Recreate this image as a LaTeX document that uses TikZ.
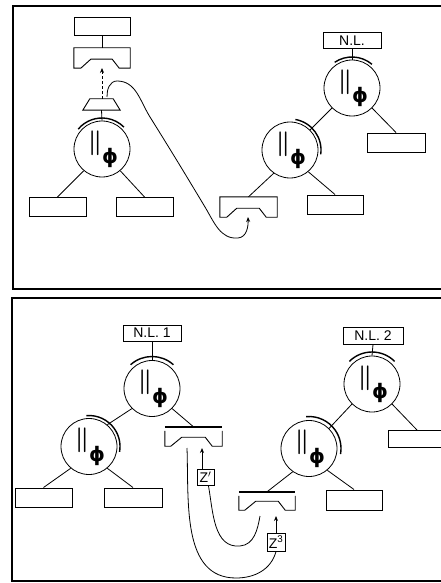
\documentclass[tikz,border=0pt]{standalone}
\usepackage{fontspec}
\setsansfont{Liberation Sans}
\newfontfamily\phifont{DejaVu Sans}
\usetikzlibrary{arrows.meta}

\tikzset{
  frame/.style={line width=1.1pt},
  link/.style={line width=0.8pt},
  plainbox/.style={draw, line width=1pt, rectangle, minimum width=57pt, minimum height=19pt, inner sep=0pt},
  dockbox/.style={rectangle, minimum width=57pt, minimum height=19pt, inner sep=0pt},
  unit/.style={draw, circle, line width=0.8pt, minimum size=56pt, inner sep=0pt},
  halo/.style={line width=1.4pt},
  nlbox/.style={draw, line width=1pt, font=\sffamily\fontsize{14}{14}\selectfont, inner sep=0pt, minimum height=16pt, minimum width=58pt},
  ztag/.style={draw, line width=0.9pt, font=\sffamily\fontsize{14}{14}\selectfont, inner sep=1pt, minimum width=17pt, minimum height=16pt},
  glyph/.style={inner sep=0pt, font=\fontsize{23}{23}\selectfont\boldmath},
  phiglyph/.style={inner sep=0pt, font=\phifont\bfseries\fontsize{20}{20}\selectfont},
  wire/.style={line width=0.8pt},
  tip/.style={-{Stealth[length=5pt,width=4pt]}},
}

% notched docking block, closed on top
\newcommand\dockoutline[1]{%
  \draw[line width=0.9pt] (#1.north west) -- (#1.south west) -- ([xshift=7pt]#1.south west)
    -- ([xshift=17pt,yshift=9pt]#1.south west) -- ([xshift=-18pt,yshift=9pt]#1.south east)
    -- ([xshift=-11pt]#1.south east) -- (#1.south east) -- (#1.north east) -- cycle;}
% notched docking block with a heavy bar on top
\newcommand\bardockoutline[1]{%
  \draw[line width=0.9pt] ([yshift=-4pt]#1.north west) -- (#1.south west) -- ([xshift=6pt]#1.south west)
    -- ([xshift=17pt,yshift=9pt]#1.south west) -- ([xshift=-17pt,yshift=9pt]#1.south east)
    -- ([xshift=-10pt]#1.south east) -- (#1.south east) -- ([yshift=-4pt]#1.north east);
  \draw[line width=2.6pt] (#1.north west) -- (#1.north east);}
% circular unit carrying the double bar and phi
\newcommand\unitat[3]{%
  \node[unit] (#1) at (#2,#3) {};
  \node[glyph] (#1-bars) at ([shift={(-7pt,6pt)}]#1.center) {$\|$};
  \node[phiglyph] (#1-phi) at ([shift={(8pt,-9pt)}]#1.center) {ϕ};}
% arc hugging a unit
\newcommand\haloarc[4]{%
  \draw[halo] ([shift={(#2:#4)}]#1.center) arc[start angle=#2, end angle=#3, radius=#4];}

\begin{document}
\begin{tikzpicture}[x=1pt,y=1pt]
\useasboundingbox (0,0) rectangle (440,-583);

% ---------- upper panel ----------
\draw[frame] (460,-6) -- (13,-6) -- (13,-289) -- (460,-289);

% left tree
\node[plainbox, minimum width=56pt, minimum height=18pt] (ta) at (102,-27) {};
\node[dockbox, minimum width=56pt, minimum height=20pt] (tr) at (102,-58) {};
\dockoutline{tr}
\node[dockbox, minimum width=37pt, minimum height=11pt] (tt) at (101.5,-104.5) {};
\draw[line width=0.9pt] (tt.south west) -- (tt.south east) -- ([xshift=-7pt]tt.north east)
  -- ([xshift=7pt]tt.north west) -- cycle;
\unitat{ua}{102}{-149}
\haloarc{ua}{140}{45}{31pt}
\node[plainbox] (ta1) at (57.5,-207) {};
\node[plainbox] (ta2) at (144.5,-207) {};
\draw[link] (ta.south) -- (tr.north);
\draw[link] (tt.south) -- (ua.north);
\draw[link] (ua.230) -- (ta1.north);
\draw[link] (ua.-50) -- (ta2.north);
\coordinate (dtip) at (102,-68);
\draw[link, densely dashed, tip] (tt.north -| dtip) -- (dtip);

% right tree
\node[nlbox] (nl) at (352,-40.5) {N.L.};
\unitat{ub}{352}{-88}
\haloarc{ub}{124}{50}{31pt}
\node[plainbox, minimum width=58pt] (tb1) at (396,-142.5) {};
\unitat{uc}{290}{-150}
\haloarc{uc}{80}{-8}{31pt}
\node[dockbox, minimum height=20pt] (tr2) at (248.5,-207) {};
\dockoutline{tr2}
\node[plainbox, minimum width=56pt] (tb2) at (335,-204.5) {};
\draw[link] (nl.south) -- (ub.north);
\draw[link] (ub.-45) -- (tb1.north);
\draw[link] (ub.225) -- (uc.45);
\draw[link] (uc.235) -- (tr2.north);
\draw[link] (uc.-50) -- (tb2.north);

% long transfer arrow
\coordinate (ls) at (107,-97);
\coordinate (la) at (117,-81);
\coordinate (lm) at (150,-117);
\coordinate (ln) at (205,-207);
\coordinate (lb) at (238,-238);
\coordinate (le) at (248,-217);
\draw[wire, tip] (ls) to[out=92,in=180] (la) to[out=0,in=122] (lm)
  to[out=-58,in=121] (ln) to[out=-59,in=185] (lb) to[out=5,in=-88] (le);

% ---------- lower panel ----------
\draw[frame] (460,-298) -- (12,-298) -- (12,-581) -- (460,-581);

% left tree
\node[nlbox] (nl1) at (152,-333) {N.L. 1};
\unitat{ud}{152}{-388.5}
\haloarc{ud}{132}{48}{32pt}
\unitat{ue}{89}{-446.5}
\haloarc{ue}{95}{-10}{31pt}
\node[plainbox] (bb1) at (43.5,-497.5) {};
\node[plainbox, minimum width=58pt] (bb2) at (133,-497.5) {};
\node[dockbox] (ra) at (193.5,-436.5) {};
\bardockoutline{ra}
\draw[link] (nl1.south) -- (ud.north);
\draw[link] (ud.225) -- (ue.50);
\draw[link] (ud.-45) -- (ra.north);
\draw[link] (ue.230) -- (bb1.north);
\draw[link] (ue.-50) -- (bb2.north);

% right tree
\node[nlbox, minimum width=60pt, minimum height=17pt] (nl2) at (373,-335.5) {N.L. 2};
\unitat{uf}{372}{-384}
\haloarc{uf}{135}{45}{32pt}
\unitat{ug}{309}{-448.5}
\haloarc{ug}{95}{-10}{32pt}
\node[plainbox, minimum width=58pt, minimum height=17pt] (bb3) at (417,-439) {};
\node[dockbox, minimum width=56pt, minimum height=18pt] (rb) at (267,-501) {};
\bardockoutline{rb}
\node[plainbox, minimum width=56pt, minimum height=20pt] (bb4) at (354,-500) {};
\draw[link] (nl2.south) -- (uf.north);
\draw[link] (uf.225) -- (ug.45);
\draw[link] (uf.-45) -- (bb3.north);
\draw[link] (ug.235) -- (rb.north);
\draw[link] (ug.-50) -- (bb4.north);

% Z tags and their links
\node[ztag] (z1) at (205.5,-477.5) {Z$'$};
\node[ztag, minimum width=18pt, minimum height=18pt] (z3) at (276,-542) {Z\textsuperscript{3}};
\coordinate (za) at (202,-448);
\draw[link, tip] (z1.north -| za) -- (za);
\coordinate (zb) at (276,-516);
\draw[link, tip] (z3.north) -- (zb);

\coordinate (ie) at (260,-516);
\coordinate (ib) at (240,-546);
\draw[wire] ([xshift=3pt]z1.south) to[out=-80,in=185] (ib) to[out=5,in=-100] (ie);

\coordinate (os) at (187,-448);
\coordinate (ob) at (236,-578);
\draw[wire] (os) to[out=-88,in=180] (ob) to[out=0,in=-105] (z3.south);
\end{tikzpicture}
\end{document}
